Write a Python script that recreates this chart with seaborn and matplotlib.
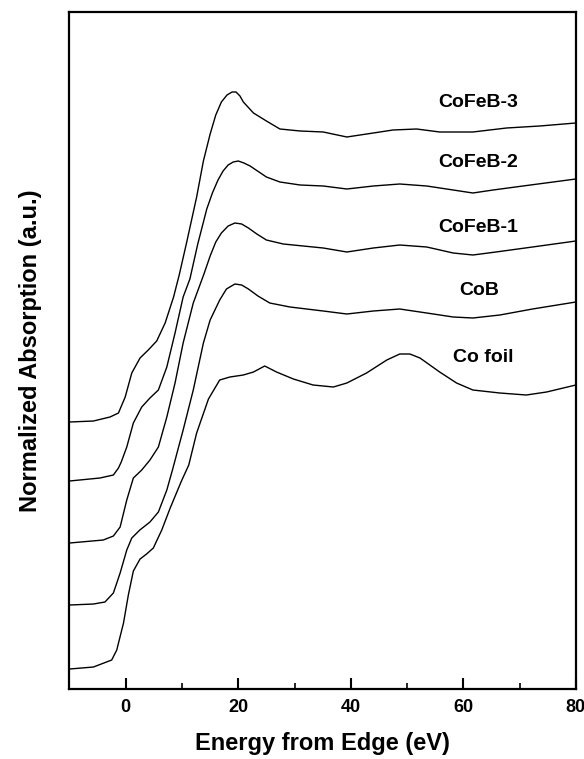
import matplotlib
matplotlib.use("Agg")
import matplotlib.pyplot as plt
import seaborn as sns
import pandas as pd
from matplotlib.ticker import MultipleLocator

# ---- data (x: eV from edge, y: normalized absorption, offset) ----
co_foil_x = [-10, -5.75, -2.5, -1.6, -0.4, 0.46, 1.35, 2.54, 3.7, 4.9, 6.4, 7.9, 9.9, 11.2,
             12.6, 14.7, 16.7, 18.5, 20.9, 22.7, 24.7, 26.8, 29.8, 33.3, 36.9, 39.3, 42.8,
             46.4, 48.7, 50.5, 52.3, 55.8, 58.8, 61.7, 66.5, 71.2, 74.8, 80]
co_foil_y = [0.20, 0.22, 0.29, 0.39, 0.66, 0.94, 1.18, 1.30, 1.35, 1.41, 1.59, 1.81, 2.08, 2.24,
             2.56, 2.90, 3.09, 3.12, 3.14, 3.17, 3.23, 3.17, 3.10, 3.04, 3.02, 3.06, 3.16,
             3.29, 3.35, 3.35, 3.31, 3.17, 3.06, 2.99, 2.96, 2.94, 2.97, 3.04]

cob_x = [-10, -5.75, -3.7, -2.2, -1.0, 0.18, 1.07, 2.5, 4.3, 5.8, 7.3, 8.3, 10.2, 12.0, 13.8,
         15.0, 16.7, 17.9, 19.4, 20.6, 21.8, 23.5, 25.6, 29.2, 35.1, 39.3, 44.0, 48.7, 53.5,
         58.2, 61.7, 66.5, 72.3, 80]
cob_y = [0.84, 0.85, 0.87, 0.96, 1.16, 1.39, 1.51, 1.59, 1.67, 1.77, 1.99, 2.19, 2.59, 2.99, 3.46,
         3.69, 3.89, 4.00, 4.05, 4.04, 4.00, 3.93, 3.86, 3.82, 3.78, 3.75, 3.78, 3.80, 3.76,
         3.72, 3.71, 3.74, 3.80, 3.87]

cofeb1_x = [-10, -4.0, -2.2, -1.0, 0.18, 1.35, 2.84, 4.3, 5.8, 7.3, 8.76, 10.2, 12.0, 13.9,
            15.0, 16.0, 17.0, 18.2, 19.4, 20.6, 21.8, 23.3, 25.0, 28.0, 35.1, 39.3, 44.0,
            48.7, 53.5, 58.2, 61.7, 65.8, 72.3, 80]
cofeb1_y = [1.46, 1.49, 1.53, 1.62, 1.89, 2.11, 2.19, 2.29, 2.42, 2.72, 3.06, 3.46, 3.86, 4.15,
            4.33, 4.47, 4.56, 4.63, 4.66, 4.65, 4.61, 4.55, 4.49, 4.45, 4.41, 4.37, 4.41,
            4.44, 4.42, 4.36, 4.34, 4.37, 4.42, 4.48]

cofeb2_x = [-10, -4.6, -2.2, -1.3, -0.8, 0.18, 1.35, 2.84, 4.3, 5.8, 7.3, 8.76, 10.2, 11.4,
            12.8, 14.4, 15.4, 16.4, 17.3, 18.2, 19.1, 20.0, 21.0, 22.1, 25.0, 27.4, 31.0,
            35.1, 39.3, 44.0, 48.7, 53.5, 58.2, 61.7, 65.3, 70.6, 80]
cofeb2_y = [2.08, 2.11, 2.14, 2.21, 2.27, 2.42, 2.66, 2.82, 2.91, 2.99, 3.22, 3.56, 3.92, 4.10,
            4.45, 4.80, 4.96, 5.09, 5.18, 5.24, 5.27, 5.28, 5.26, 5.23, 5.12, 5.07, 5.04,
            5.03, 5.00, 5.03, 5.05, 5.03, 4.99, 4.96, 4.99, 5.03, 5.10]

cofeb3_x = [-10, -5.75, -2.8, -1.3, -0.1, 1.07, 2.54, 4.0, 5.5, 7.0, 8.5, 9.5, 10.8, 12.6, 13.8,
            15.0, 16.0, 17.0, 18.0, 18.9, 19.6, 20.3, 20.9, 22.7, 25.0, 27.4, 31.0, 35.1,
            39.3, 44.0, 47.5, 51.7, 55.8, 61.7, 67.7, 73.6, 80]
cofeb3_y = [2.67, 2.68, 2.72, 2.76, 2.92, 3.16, 3.31, 3.39, 3.48, 3.66, 3.92, 4.14, 4.46, 4.92, 5.28,
            5.55, 5.74, 5.87, 5.94, 5.97, 5.97, 5.93, 5.87, 5.76, 5.68, 5.60, 5.58, 5.57,
            5.52, 5.56, 5.59, 5.60, 5.57, 5.57, 5.61, 5.63, 5.66]

sample_names = ["Co foil", "CoB", "CoFeB-1", "CoFeB-2", "CoFeB-3"]
label_x = [63.5, 62.8, 62.6, 62.6, 62.6]
label_y = [3.32, 3.99, 4.62, 5.26, 5.86]
x_ticks = [0, 20, 40, 60, 80]

series = {
    "Co foil": (co_foil_x, co_foil_y),
    "CoB": (cob_x, cob_y),
    "CoFeB-1": (cofeb1_x, cofeb1_y),
    "CoFeB-2": (cofeb2_x, cofeb2_y),
    "CoFeB-3": (cofeb3_x, cofeb3_y),
}

frames = []
for name in sample_names:
    xs, ys = series[name]
    frames.append(pd.DataFrame({"energy": xs, "absorption": ys, "sample": name}))
df = pd.concat(frames, ignore_index=True)

sns.set_theme(style="white")
plt.rcParams["font.family"] = ["Liberation Sans", "DejaVu Sans"]
plt.rcParams["text.color"] = "black"
plt.rcParams["axes.labelcolor"] = "black"
plt.rcParams["xtick.color"] = "black"
plt.rcParams["ytick.color"] = "black"

fig = plt.figure(figsize=(5.84, 7.59), dpi=100)
ax = fig.add_axes([0.119, 0.0922, 0.867, 0.892])

sns.lineplot(data=df, x="energy", y="absorption", units="sample", estimator=None,
             sort=False, color="black", linewidth=1.0, ax=ax, legend=False)

for name, lx, ly in zip(sample_names, label_x, label_y):
    ax.text(lx, ly, name, ha="center", va="center", fontsize=14, fontweight="bold",
            color="black")

ax.set_xlim(-10, 80)
ax.set_ylim(0, 6.77)
ax.set_xticks(x_ticks)
ax.set_xticklabels([str(t) for t in x_ticks])
ax.xaxis.set_minor_locator(MultipleLocator(10))
ax.set_yticks([])
ax.tick_params(axis="x", which="major", direction="in", length=8, width=1.5,
               labelsize=13, pad=7, bottom=True, top=False, labelcolor="black")
ax.tick_params(axis="x", which="minor", direction="in", length=4, width=1.2,
               bottom=True, top=False)
for lab in ax.get_xticklabels():
    lab.set_fontweight("bold")
for sp in ax.spines.values():
    sp.set_linewidth(1.6)
    sp.set_color("black")

ax.set_xlabel("Energy from Edge (eV)", fontsize=17, fontweight="bold", color="black")
ax.set_ylabel("Normalized Absorption (a.u.)", fontsize=17, fontweight="bold", color="black")
ax.xaxis.set_label_coords(0.5, -0.064)
ax.yaxis.set_label_coords(-0.054, 0.5)

fig.savefig("out.png", dpi=100)
